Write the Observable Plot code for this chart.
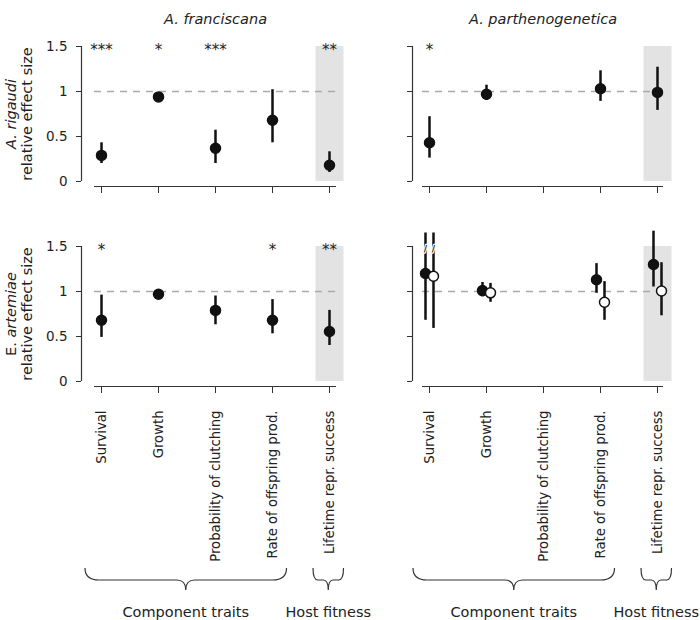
<!DOCTYPE html>
<html><head><meta charset="utf-8">
<script src="https://cdn.jsdelivr.net/npm/d3@7"></script>
<script src="https://cdn.jsdelivr.net/npm/@observablehq/plot@0.6"></script>
<style>
body{margin:0;background:#fff;}
#chart{position:relative;width:700px;height:620px;}
#chart svg{position:absolute;overflow:visible;}
</style></head><body><div id="chart"></div>
<script>
const traits = ["Survival", "Growth", "Probability of clutching", "Rate of offspring prod.", "Lifetime repr. success"];
const hosts = ["A. franciscana", "A. parthenogenetica"];
const parasites = ["A. rigaudi", "E. artemiae"];
const yLabel = "relative effect size";
const yTicks = [0, 0.5, 1, 1.5];
const groups = [
  {label: "Component traits", from: 0, to: 3},
  {label: "Host fitness", from: 4, to: 4}
];

// A. rigaudi x A. franciscana
const rigFranEst = [0.29, 0.94, 0.37, 0.68, 0.18];
const rigFranLo  = [0.20, 0.93, 0.20, 0.43, 0.10];
const rigFranHi  = [0.43, 0.96, 0.57, 1.02, 0.33];
const rigFranSig = ["***", "*", "***", "", "**"];

// A. rigaudi x A. parthenogenetica
const rigParEst = [0.43, 0.97, null, 1.03, 0.99];
const rigParLo  = [0.26, 0.90, null, 0.89, 0.79];
const rigParHi  = [0.72, 1.07, null, 1.23, 1.27];
const rigParSig = ["*", "", "", "", ""];

// E. artemiae x A. franciscana
const artFranEst = [0.68, 0.97, 0.79, 0.68, 0.555];
const artFranLo  = [0.49, 0.96, 0.63, 0.53, 0.40];
const artFranHi  = [0.96, 0.98, 0.95, 0.91, 0.79];
const artFranSig = ["*", "", "", "*", "**"];

// E. artemiae x A. parthenogenetica (filled series)
const artParEstA = [1.20, 1.01, null, 1.13, 1.30];
const artParLoA  = [0.68, 0.94, null, 0.98, 1.05];
const artParHiA  = [1.65, 1.10, null, 1.31, 1.67];
// E. artemiae x A. parthenogenetica (open series)
const artParEstB = [1.17, 0.985, null, 0.88, 1.005];
const artParLoB  = [0.59, 0.88, null, 0.68, 0.73];
const artParHiB  = [1.65, 1.09, null, 1.11, 1.32];
const artParBreak = [1.47, null, null, null, null];
const artParSig = ["", "", "", "", ""];

const panels = [
  {row: 0, col: 0, sig: rigFranSig, series: [{est: rigFranEst, lo: rigFranLo, hi: rigFranHi, open: false, dx: 0}]},
  {row: 0, col: 1, sig: rigParSig, series: [{est: rigParEst, lo: rigParLo, hi: rigParHi, open: false, dx: 0}]},
  {row: 1, col: 0, sig: artFranSig, series: [{est: artFranEst, lo: artFranLo, hi: artFranHi, open: false, dx: 0}]},
  {row: 1, col: 1, sig: artParSig, brk: artParBreak, series: [
    {est: artParEstA, lo: artParLoA, hi: artParHiA, open: false, dx: -4},
    {est: artParEstB, lo: artParLoB, hi: artParHiB, open: true, dx: 4}
  ]}
];

// layout
const colLeft = [0, 350];
const colRange = [[101, 329], [79, 307]];
const colML = [94, 72];
const colMR = [14, 37];
const colAxisDx = [-20, -17];
const rowTop = [0, 200];
const rowH = [200, 420];
const ink = "#222";
const font = "DejaVu Sans, sans-serif";

function rowsOf(s) {
  return traits.map((t, i) => ({trait: t, est: s.est[i], lo: s.lo[i], hi: s.hi[i]})).filter(d => d.est != null);
}

function braceMark() {
  return (index, scales, values, dimensions) => {
    const x = scales.x;
    const base = dimensions.height - dimensions.marginBottom;
    const top = base + 187, ym = top + 12, tip = top + 22;
    const g = d3.create("svg:g");
    for (const grp of groups) {
      const x1 = x(traits[grp.from]) - 16, x2 = x(traits[grp.to]) + 14.5;
      const mid = (x1 + x2) / 2;
      const wide = grp.from !== grp.to;
      const r1 = wide ? 14 : 5, r2 = wide ? 9 : 5;
      const p = `M${x1},${top} Q${x1},${ym} ${x1 + r1},${ym} L${mid - r2},${ym} Q${mid},${ym} ${mid},${tip}` +
                ` Q${mid},${ym} ${mid + r2},${ym} L${x2 - r1},${ym} Q${x2},${ym} ${x2},${top}`;
      g.append("path").attr("d", p).attr("fill", "none").attr("stroke", "#333").attr("stroke-width", 1.2);
      g.append("text").attr("x", mid).attr("y", tip + 22).attr("text-anchor", "middle")
        .attr("dy", "0.35em").attr("fill", ink).attr("font-size", 14.5).text(grp.label);
    }
    return g.node();
  };
}

const chart = document.getElementById("chart");

for (const p of panels) {
  const {row, col} = p;
  const bottom = row === 1;
  const axisX0 = colRange[col][0] + colAxisDx[col];
  const marks = [
    Plot.ruleX([traits[4]], {y1: 0, y2: 1.5, stroke: "#e3e3e3", strokeWidth: 28}),
    Plot.ruleY([1], {stroke: "#aaa", strokeWidth: 1.3, strokeDasharray: "7,6"}),
    Plot.ruleY([0], {dy: 5, stroke: "#333", strokeWidth: 1.2}),
    Plot.ruleX([traits[0]], {y1: 0, y2: 1.5, dx: colAxisDx[col], stroke: "#333", strokeWidth: 1.2}),
    Plot.axisY({ticks: yTicks, dx: axisX0 - colML[col], tickSize: 5, tickPadding: 9, stroke: "#333",
      tickFormat: col === 0 ? (d => String(d)) : (() => ""), fontSize: 13.5, fill: ink, label: null}),
    Plot.axisX({ticks: traits, dy: 5, tickSize: 7, tickPadding: 17, tickRotate: -90, textAnchor: "end", stroke: "#333",
      tickFormat: bottom ? (d => d) : (() => ""), fontSize: 13.2, fill: ink, label: null})
  ];
  for (const s of p.series) {
    const data = rowsOf(s);
    marks.push(Plot.ruleX(data, {x: "trait", y1: "lo", y2: "hi", stroke: "#111", strokeWidth: 2.5, dx: s.dx}));
  }
  if (p.brk) {
    for (const s of p.series) {
      const bd = traits.map((t, i) => ({trait: t, y: p.brk[i]})).filter(d => d.y != null);
      marks.push(Plot.text(bd, {x: "trait", y: "y", text: () => "/", dx: s.dx, fontSize: 9, fontWeight: "bold",
        fill: "#111", stroke: "white", strokeWidth: 2.5}));
    }
  }
  for (const s of p.series) {
    const data = rowsOf(s);
    marks.push(Plot.dot(data, {x: "trait", y: "est", r: 5, dx: s.dx,
      fill: s.open ? "white" : "#111", stroke: "#111", strokeWidth: 1.5}));
  }
  const sd = traits.map((t, i) => ({trait: t, s: p.sig[i]})).filter(d => d.s);
  marks.push(Plot.text(sd, {x: "trait", y: () => 1.5, text: "s", dy: 4, fontSize: 15, fill: ink}));
  if (row === 0) {
    marks.push(Plot.text([hosts[col]], {frameAnchor: "top", dy: -33, fontSize: 14.5, fontStyle: "italic", fill: ink}));
  }
  if (col === 0) {
    marks.push(Plot.text([parasites[row]], {frameAnchor: "left", rotate: -90, dx: -83, textAnchor: "middle",
      fontSize: 14.5, fontStyle: row === 0 ? "italic" : "normal", fill: ink}));
    marks.push(Plot.text([yLabel], {frameAnchor: "left", rotate: -90, dx: -67, textAnchor: "middle",
      fontSize: 14.5, fill: ink}));
  }
  if (bottom) marks.push(braceMark());

  const svg = Plot.plot({
    width: 350,
    height: rowH[row],
    marginTop: 46,
    marginBottom: rowH[row] - 181,
    marginLeft: colML[col],
    marginRight: colMR[col],
    x: {type: "point", domain: traits, range: colRange[col], padding: 0, label: null},
    y: {domain: [0, 1.5], label: null},
    style: {fontFamily: font, fontSize: "14px", color: ink, background: "transparent", overflow: "visible"},
    marks
  });
  svg.style.left = colLeft[col] + "px";
  svg.style.top = rowTop[row] + "px";
  chart.appendChild(svg);

  // "E." upright, "artemiae" italic
  d3.select(svg).selectAll("text").filter(function () { return this.textContent === "E. artemiae"; })
    .each(function () {
      const t = d3.select(this);
      t.text("");
      t.append("tspan").text("E. ");
      t.append("tspan").attr("font-style", "italic").text("artemiae");
    });
}
</script></body></html>
